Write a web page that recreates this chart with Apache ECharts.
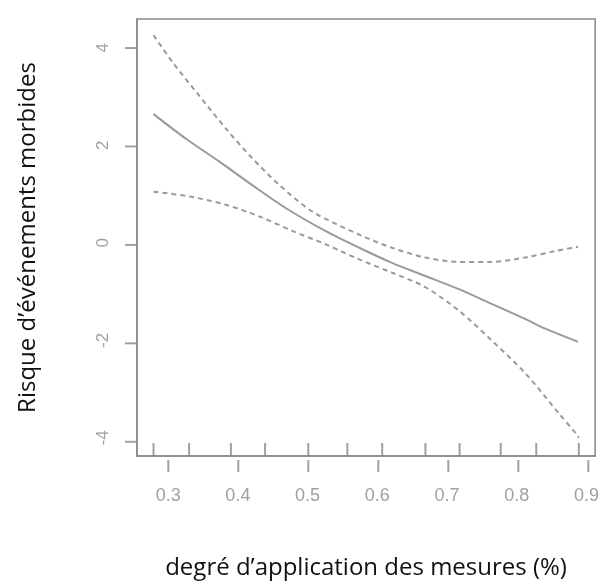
<!DOCTYPE html>
<html>
<head>
<meta charset="utf-8">
<script src="https://cdn.jsdelivr.net/npm/echarts@6/dist/echarts.min.js"></script>
<style>
html,body{margin:0;padding:0;background:#fff;}
#chart{width:602px;height:585px;}
</style>
</head>
<body>
<div id="chart"></div>
<script>
// Fitted curve (solid) and confidence bounds (dashed): [x, y]
var fitCurve = [[0.279,2.64],[0.326,2.13],[0.374,1.66],[0.421,1.18],[0.469,0.71],[0.526,0.24],[0.574,-0.10],[0.621,-0.41],[0.669,-0.68],[0.717,-0.95],[0.764,-1.25],[0.812,-1.56],[0.841,-1.76],[0.888,-2.03]];
var upperBound = [[0.279,4.26],[0.307,3.69],[0.345,3.01],[0.383,2.34],[0.421,1.73],[0.46,1.18],[0.507,0.64],[0.574,0.17],[0.621,-0.10],[0.669,-0.30],[0.717,-0.39],[0.764,-0.39],[0.812,-0.30],[0.855,-0.17],[0.888,-0.08]];
var lowerBound = [[0.279,1.05],[0.331,0.95],[0.383,0.78],[0.431,0.54],[0.479,0.24],[0.526,-0.03],[0.574,-0.34],[0.621,-0.61],[0.669,-0.91],[0.717,-1.39],[0.764,-2.00],[0.812,-2.67],[0.86,-3.49],[0.886,-3.93],[0.889,-4.0]];
// Rug (observed x values)
var rugValues = [0.279,0.33,0.39,0.439,0.501,0.557,0.607,0.669,0.718,0.777,0.828,0.889];
var xTicks = [0.3,0.4,0.5,0.6,0.7,0.8,0.9];
var yTicks = [-4,-2,0,2,4];
var xTitle = "degré d’application des mesures (%)";
var yTitle = "Risque d’événements morbides";

var xMin = 0.2553, xMax = 0.9124, yMin = -4.37, yMax = 4.59;
var grey = '#9a9a9a';
var axisGrey = '#888888';

var chart = echarts.init(document.getElementById('chart'));
chart.setOption({
  animation: false,
  backgroundColor: '#fff',
  grid: [
    {left: 137, right: 5, top: 19, bottom: 125, show: true, borderColor: axisGrey, borderWidth: 1.5, backgroundColor: 'transparent'},
    // strip below the plot for outward x ticks
    {left: 137, right: 5, top: 460, bottom: 113},
    // strip left of the plot for outward y ticks
    {left: 125, width: 12, top: 19, bottom: 125}
  ],
  xAxis: [{
    gridIndex: 0, type: 'value', min: xMin, max: xMax,
    name: xTitle, nameLocation: 'middle', nameGap: 100,
    nameTextStyle: {fontFamily: 'Open Sans', fontSize: 24, color: '#111'},
    axisLine: {show: true, onZero: false, lineStyle: {color: axisGrey, width: 1.5}},
    splitLine: {show: false},
    axisTick: {show: false},
    axisLabel: {customValues: xTicks, margin: 31, fontFamily: 'Liberation Sans', fontSize: 18, color: '#a0a0a0',
      formatter: function(v){ return v.toFixed(1); }}
  }, {
    gridIndex: 1, type: 'value', min: xMin, max: xMax, show: false
  }, {
    gridIndex: 2, type: 'value', min: 0, max: 1, show: false
  }],
  yAxis: [{
    gridIndex: 0, type: 'value', min: yMin, max: yMax,
    name: yTitle, nameLocation: 'middle', nameGap: 97,
    nameTextStyle: {fontFamily: 'Open Sans', fontSize: 24, color: '#111'},
    axisLine: {show: true, onZero: false, lineStyle: {color: axisGrey, width: 1.5}},
    splitLine: {show: false},
    axisTick: {show: false},
    axisLabel: {customValues: yTicks, margin: 25, rotate: 90, fontFamily: 'Liberation Sans', fontSize: 17, color: '#a0a0a0',
      formatter: function(v){ return String(v); }}
  }, {
    gridIndex: 1, type: 'value', min: 0, max: 1, show: false
  }, {
    gridIndex: 2, type: 'value', min: yMin, max: yMax, show: false
  }],
  series: [
    {type: 'line', data: fitCurve, smooth: 0.3, showSymbol: false, lineStyle: {color: grey, width: 2, type: 'solid'}},
    {type: 'line', data: upperBound, smooth: 0.3, showSymbol: false, lineStyle: {color: grey, width: 2, type: [5, 4]}},
    {type: 'line', data: lowerBound, smooth: 0.3, showSymbol: false, lineStyle: {color: grey, width: 2, type: [5, 4]}},
    // rug marks inside the bottom edge
    {type: 'scatter', data: rugValues.map(function(v){ return [v, yMin]; }), symbol: 'rect', symbolSize: [2, 13], symbolOffset: [0, -6.5],
      itemStyle: {color: axisGrey}, silent: true, clip: false},
    // outward axis ticks
    {type: 'scatter', xAxisIndex: 1, yAxisIndex: 1, data: xTicks.map(function(v){ return [v, 0.5]; }), symbol: 'rect', symbolSize: [2, 12],
      itemStyle: {color: axisGrey}, silent: true, clip: false},
    {type: 'scatter', xAxisIndex: 2, yAxisIndex: 2, data: yTicks.map(function(v){ return [0.5, v]; }), symbol: 'rect', symbolSize: [12, 2],
      itemStyle: {color: axisGrey}, silent: true, clip: false}
  ]
});
</script>
</body>
</html>
